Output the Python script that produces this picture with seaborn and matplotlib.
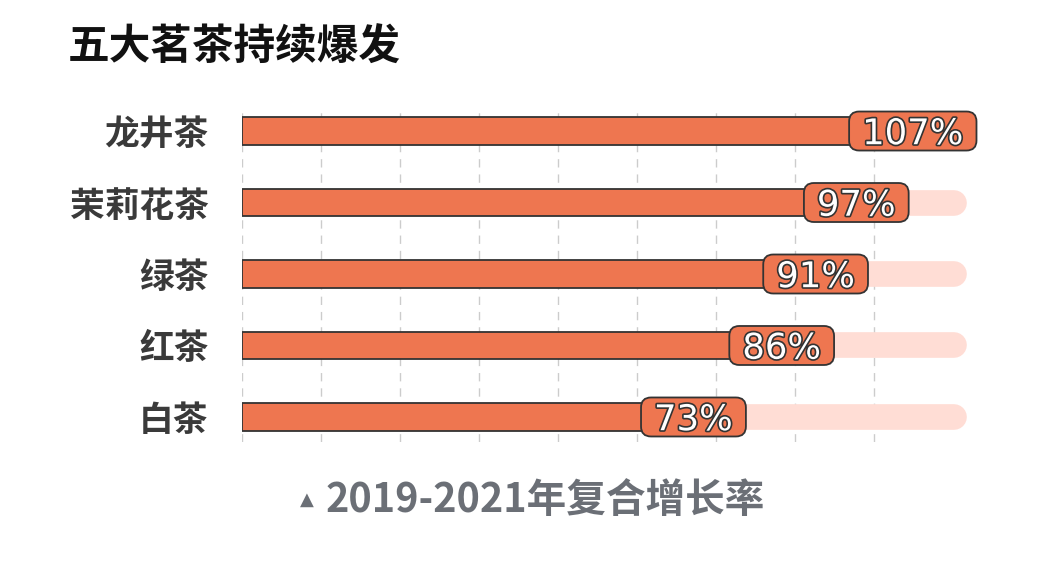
import numpy as np
import pandas as pd
import seaborn as sns
import matplotlib.pyplot as plt
import matplotlib.patheffects as pe
from matplotlib.patches import FancyBboxPatch
from matplotlib.transforms import IdentityTransform

# tea growth data (2019-2021 compound growth, %)
teas = ["龙井茶", "茉莉花茶", "绿茶", "红茶", "白茶"]
growth = [107, 97, 91, 86, 73]
labels = ["107%", "97%", "91%", "86%", "73%"]

orange = "#EE7650"
track_color = "#FFDDD5"
dark = "#333333"

sns.set_theme(style="white")
plt.rcParams['font.family'] = ['Noto Sans CJK SC', 'DejaVu Sans']

df = pd.DataFrame({"tea": teas, "growth": growth, "label": labels})

fig = plt.figure(figsize=(10.5, 5.64), dpi=100)
ax = fig.add_axes([242 / 1050, (564 - 442) / 564, 746 / 1050, 336 / 564])

# background track, rounded at the right end
track_end = max(growth) - 2
for i in range(len(teas)):
    ax.plot([0, track_end], [i, i], color=track_color, lw=18.5,
            solid_capstyle="round", zorder=1)

sns.barplot(data=df, x="growth", y="tea", orient="h", color=orange,
            saturation=1, edgecolor=dark, linewidth=1.3, width=0.39,
            ax=ax, zorder=2)

# dashed vertical grid
grid_step = 11.65
ax.set_xticks(np.arange(9) * grid_step)
ax.xaxis.grid(True, linestyle=(0, (6, 5)), color="#cccccc", lw=1, zorder=0)
ax.set_axisbelow(True)
ax.set_xlim(0, 110)
ax.set_ylim(4.35, -0.35)
ax.set_xticklabels([])
ax.set_xlabel("")
ax.set_ylabel("")
ax.tick_params(axis="both", length=0)
ax.tick_params(axis="y", pad=24)
for lbl in ax.get_yticklabels():
    lbl.set_fontsize(25)
    lbl.set_fontweight("bold")
    lbl.set_color("#3a3a3a")
sns.despine(ax=ax, left=True, bottom=True)

# value labels
texts = []
for i, row in df.iterrows():
    t = ax.annotate(row["label"], xy=(row["growth"], i), xytext=(-3, -9.5),
                    textcoords="offset points", ha="right", va="baseline",
                    fontsize=25.5, color="white", family=["DejaVu Sans"],
                    path_effects=[pe.withStroke(linewidth=2.4, foreground=dark)],
                    zorder=6)
    texts.append(t)

# rounded boxes behind the labels
fig.canvas.draw()
renderer = fig.canvas.get_renderer()
for i, t in enumerate(texts):
    bb = t.get_window_extent(renderer)
    yc = ax.transData.transform((0, i))[1]
    box = FancyBboxPatch((bb.x0 - 13, yc - 19.5), bb.width + 26, 39,
                         boxstyle="round,pad=0,rounding_size=10",
                         fc=orange, ec=dark, lw=1.3,
                         transform=IdentityTransform(), clip_on=False, zorder=5)
    ax.add_patch(box)

fig.text(0.065, 0.915, "五大茗茶持续爆发", fontsize=30, fontweight="bold",
         color="#111111", ha="left", va="center")
fig.text(307 / 1050, 0.113, "▲", fontsize=13, color="#6b6f76",
         ha="center", va="center", family=["DejaVu Sans"])
fig.text(326 / 1050, 0.113, "2019-2021年复合增长率", fontsize=28.5, fontweight="bold",
         color="#6b6f76", ha="left", va="center")

fig.savefig("out.png", dpi=100)
